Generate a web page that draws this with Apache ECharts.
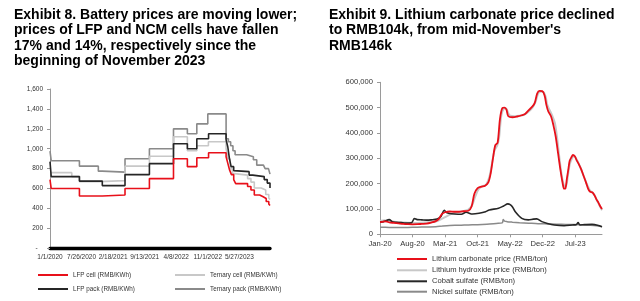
<!DOCTYPE html>
<html>
<head>
<meta charset="utf-8">
<script src="https://cdn.jsdelivr.net/npm/echarts@6/dist/echarts.min.js"></script>
<style>
  html, body { margin: 0; padding: 0; background: #fff; }
  #chart { width: 640px; height: 301px; }
</style>
</head>
<body>
<div id="chart"></div>
<script>
// Exhibit 8: battery prices, [days since 1/1/2020, RMB/KWh], value holds until next change
const lfpCell = [[0, 690], [8, 600], [193, 525], [343, 535], [492, 600], [652, 700], [810, 900], [901, 820], [963, 910], [1040, 960],
  [1155, 920], [1166, 855], [1177, 790], [1190, 740], [1205, 690], [1218, 650], [1296, 620], [1318, 585], [1340, 535],
  [1375, 520], [1395, 500], [1418, 470], [1435, 445], [1443, 430]];
const lfpPack = [[0, 870], [8, 720], [193, 675], [343, 630], [492, 740], [652, 850], [810, 1050], [901, 1000], [963, 1100], [1040, 1150],
  [1155, 1090], [1166, 1020], [1177, 900], [1188, 820], [1205, 780], [1214, 770], [1306, 735], [1330, 720], [1405, 690],
  [1425, 655], [1443, 605]];
const ternaryCell = [[0, 760], [143, 720], [193, 670], [317, 680], [492, 825], [652, 925], [810, 1120], [901, 980], [963, 1030], [1039, 1070],
  [1155, 1000], [1168, 900], [1182, 800], [1196, 750], [1210, 735], [1296, 700], [1318, 665], [1340, 605], [1385, 585],
  [1415, 540], [1435, 505], [1443, 490]];
const ternaryPack = [[0, 975], [8, 880], [193, 825], [317, 775], [343, 765], [492, 900], [652, 1000], [810, 1200], [901, 1150], [963, 1250],
  [1035, 1350], [1155, 1100], [1170, 1070], [1185, 1030], [1200, 980], [1214, 940], [1290, 920], [1334, 890], [1356, 835],
  [1400, 820], [1411, 800], [1433, 780], [1443, 745]];
const batteryTicks = [0, 207, 414, 621, 828, 1035, 1242];

// Exhibit 9: raw material prices, [months since Jan-20, RMB/ton]
const lithiumCarbonate = [[0, 48000], [0.5, 49000], [1, 51000], [1.5, 50000], [2, 47000], [3, 45000], [4, 43000], [5, 41000], [6, 40000],
  [7, 39500], [8, 40000], [9, 41000], [10, 42000], [11, 46000], [12, 52000], [12.7, 62000], [13.3, 80000], [14, 87000],
  [15, 90000], [16, 89000], [17, 89000], [18, 91000], [19, 93000], [19.7, 110000], [20.3, 160000], [21, 182000],
  [21.8, 188000], [22.6, 192000], [23.3, 205000], [23.8, 240000], [24.3, 300000], [24.8, 352000], [25.3, 362000],
  [25.8, 455000], [26.3, 498000], [26.8, 500000], [27.2, 492000], [27.6, 466000], [28.5, 462000], [29.5, 465000],
  [30.5, 470000], [31.2, 475000], [32, 490000], [32.8, 505000], [33.3, 520000], [33.8, 555000], [34.3, 566000],
  [34.9, 565000], [35.4, 548000], [35.8, 510000], [36.2, 485000], [36.8, 465000], [37.3, 430000], [37.8, 385000],
  [38.3, 320000], [38.8, 255000], [39.3, 200000], [39.6, 180000], [39.9, 182000], [40.2, 220000], [40.5, 255000],
  [40.8, 290000], [41.2, 305000], [41.5, 313000], [41.9, 308000], [42.3, 292000], [42.8, 275000], [43.3, 255000],
  [43.8, 230000], [44.3, 205000], [44.8, 178000], [45.2, 168000], [45.7, 165000], [46.1, 155000], [46.5, 140000],
  [47, 124000], [47.4, 110000], [47.75, 100000]];
const lithiumHydroxide = [[0, 53000], [1, 55000], [2, 53000], [3, 50000], [4, 48000], [5, 47000], [6, 46000], [7, 45000], [8, 45000],
  [9, 46000], [10, 47000], [11, 48000], [12, 50000], [13, 58000], [14, 68000], [15, 78000], [16, 85000], [17, 88000],
  [18, 92000], [19, 98000], [19.8, 115000], [20.5, 150000], [21.2, 178000], [22, 190000], [22.8, 195000], [23.5, 225000],
  [24, 270000], [24.6, 330000], [25.2, 350000], [25.6, 380000], [26.1, 470000], [26.6, 495000], [27.1, 497000],
  [27.6, 478000], [28, 468000], [29, 466000], [30, 468000], [31, 472000], [32, 485000], [32.8, 500000], [33.5, 525000],
  [34, 555000], [34.5, 563000], [35.1, 562000], [35.6, 545000], [36, 510000], [36.5, 490000], [37, 470000],
  [37.6, 440000], [38.1, 380000], [38.6, 300000], [39.1, 230000], [39.6, 192000], [40, 190000], [40.4, 230000],
  [40.8, 275000], [41.3, 300000], [41.7, 308000], [42.1, 302000], [42.6, 285000], [43.1, 265000], [43.6, 240000],
  [44.2, 212000], [44.7, 190000], [45.2, 172000], [45.7, 165000], [46.2, 152000], [46.7, 132000], [47.2, 115000],
  [47.75, 95000]];
const cobaltSulfate = [[0, 48000], [0.8, 50000], [2, 58000], [2.6, 50000], [3.5, 47000], [4.5, 46000], [5.5, 44000], [6.8, 46000],
  [7.4, 62000], [8, 58000], [9, 57000], [10, 56000], [11, 57000], [12.3, 60000], [13.1, 70000], [13.8, 95000], [14.3, 86000],
  [15, 82000], [16, 80000], [17.5, 79000], [18.5, 87000], [19.9, 80000], [21.3, 83000], [22.7, 89000], [23.5, 96000],
  [25.5, 103000], [26.6, 112000], [27.5, 120000], [28, 117000], [28.5, 108000], [29.1, 89000], [30.5, 63000],
  [31.9, 57000], [33, 60000], [33.7, 61000], [34.8, 50000], [36, 43000], [37.5, 37000], [39.6, 34000], [41.4, 37000],
  [42.2, 38000], [42.6, 46000], [43, 37000], [44, 38000], [45.6, 39000], [46.8, 36000], [47.75, 30000]];
const nickelSulfate = [[0, 28000], [2, 27000], [4, 26500], [6, 27000], [8, 28000], [10, 29000], [12, 30000], [13.5, 33000],
  [15, 35000], [17, 35500], [19, 37000], [21, 38000], [23, 40000], [25, 43000], [26.3, 45000], [26.5, 58000],
  [26.8, 52000], [27.3, 50000], [28.5, 48000], [30, 46000], [32, 44000], [34, 42000], [36, 41000], [38, 40000],
  [40, 39000], [42, 38500], [44, 37000], [46, 35000], [47, 33000], [47.75, 30000]];
const lithiumTicks = [0, 7, 14, 21, 28, 35, 42];
const monthNames = ['Jan', 'Feb', 'Mar', 'Apr', 'May', 'Jun', 'Jul', 'Aug', 'Sep', 'Oct', 'Nov', 'Dec'];

const FONT = 'Liberation Sans, Arial, sans-serif';
const RED = '#e8101a', BLACK = '#262626', LIGHT = '#c8c8c8', MID = '#8a8a8a';

function dayLabel(v) {
  const d = new Date(2020, 0, 1 + v);
  return (d.getMonth() + 1) + '/' + d.getDate() + '/' + d.getFullYear();
}
function monthLabel(v) {
  return monthNames[v % 12] + '-' + (20 + Math.floor(v / 12));
}
// one legend box per entry so rows and columns sit where the original has them
function legendItem(name, left, centerY, size) {
  return {
    left: left, top: centerY - 4, padding: 0,
    itemWidth: 30, itemHeight: 2, icon: 'rect',
    textStyle: { fontFamily: FONT, fontSize: size, color: '#333', lineHeight: 8 },
    data: [name]
  };
}

const chart = echarts.init(document.getElementById('chart'), null, { renderer: 'canvas' });

const leftLabel = { fontFamily: FONT, fontSize: 6.5, color: '#333' };
const rightLabel = { fontFamily: FONT, fontSize: 7.6, color: '#333' };
const titleStyle = { fontFamily: FONT, fontSize: 14, fontWeight: 'bold', color: '#000', lineHeight: 15.6 };

chart.setOption({
  animation: false,
  title: [
    {
      text: 'Exhibit 8. Battery prices are moving lower;\nprices of LFP and NCM cells have fallen\n17% and 14%, respectively since the\nbeginning of November 2023',
      left: 9, top: 2, textStyle: titleStyle
    },
    {
      text: 'Exhibit 9. Lithium carbonate price declined\nto RMB104k, from mid-November\'s\nRMB146k',
      left: 324, top: 2, textStyle: titleStyle
    }
  ],
  legend: [
    legendItem('LFP cell (RMB/KWh)', 38, 275, 6.3),
    legendItem('LFP pack (RMB/KWh)', 38, 289, 6.3),
    legendItem('Ternary cell (RMB/KWh)', 175, 275, 6.3),
    legendItem('Ternary pack (RMB/KWh)', 175, 289, 6.3),
    legendItem('Lithium carbonate price (RMB/ton)', 397, 259, 7.6),
    legendItem('Lithium hydroxide price (RMB/ton)', 397, 270.3, 7.6),
    legendItem('Cobalt sulfate (RMB/ton)', 397, 281.3, 7.6),
    legendItem('Nickel sulfate (RMB/ton)', 397, 291.7, 7.6)
  ],
  grid: [
    { left: 50, right: 370, top: 89, bottom: 52.7 },
    { left: 380, right: 38, top: 82.3, bottom: 66.7 }
  ],
  xAxis: [
    {
      gridIndex: 0, type: 'value', min: 0, max: 1443,
      splitLine: { show: false },
      axisLine: { lineStyle: { color: '#000', width: 3.3 } },
      axisTick: { show: false },
      axisLabel: Object.assign({ margin: 5, customValues: batteryTicks, formatter: dayLabel }, leftLabel)
    },
    {
      gridIndex: 1, type: 'value', min: 0, max: 47.75,
      splitLine: { show: false },
      axisLine: { lineStyle: { color: '#9a9a9a', width: 1 } },
      axisTick: { length: 3, lineStyle: { color: '#9a9a9a' }, customValues: lithiumTicks },
      axisLabel: Object.assign({ margin: 6, customValues: lithiumTicks, formatter: monthLabel }, rightLabel)
    }
  ],
  yAxis: [
    {
      gridIndex: 0, type: 'value', min: 0, max: 1600, interval: 200,
      splitLine: { show: false },
      axisLine: { show: true, lineStyle: { color: '#9a9a9a' } },
      axisTick: { show: true, length: 3, lineStyle: { color: '#9a9a9a' } },
      axisLabel: Object.assign({
        margin: 7,
        formatter: v => v === 0 ? '-   ' : v.toLocaleString('en-US')
      }, leftLabel)
    },
    {
      gridIndex: 1, type: 'value', min: 0, max: 600000, interval: 100000,
      splitLine: { show: false },
      axisLine: { show: true, lineStyle: { color: '#9a9a9a' } },
      axisTick: { show: true, length: 3, lineStyle: { color: '#9a9a9a' } },
      axisLabel: Object.assign({
        margin: 7,
        formatter: v => v.toLocaleString('en-US')
      }, rightLabel)
    }
  ],
  series: [
    { name: 'Ternary pack (RMB/KWh)', type: 'line', xAxisIndex: 0, yAxisIndex: 0, step: 'end', showSymbol: false,
      data: ternaryPack, color: MID, lineStyle: { width: 1.6 } },
    { name: 'Ternary cell (RMB/KWh)', type: 'line', xAxisIndex: 0, yAxisIndex: 0, step: 'end', showSymbol: false,
      data: ternaryCell, color: LIGHT, lineStyle: { width: 1.6 } },
    { name: 'LFP pack (RMB/KWh)', type: 'line', xAxisIndex: 0, yAxisIndex: 0, step: 'end', showSymbol: false,
      data: lfpPack, color: BLACK, lineStyle: { width: 1.6 } },
    { name: 'LFP cell (RMB/KWh)', type: 'line', xAxisIndex: 0, yAxisIndex: 0, step: 'end', showSymbol: false,
      data: lfpCell, color: RED, lineStyle: { width: 1.6 } },

    { name: 'Nickel sulfate (RMB/ton)', type: 'line', xAxisIndex: 1, yAxisIndex: 1, smooth: 0.3, showSymbol: false,
      data: nickelSulfate, color: MID, lineStyle: { width: 1.5 } },
    { name: 'Lithium hydroxide price (RMB/ton)', type: 'line', xAxisIndex: 1, yAxisIndex: 1, smooth: 0.3, showSymbol: false,
      data: lithiumHydroxide, color: LIGHT, lineStyle: { width: 2 } },
    { name: 'Cobalt sulfate (RMB/ton)', type: 'line', xAxisIndex: 1, yAxisIndex: 1, smooth: 0.3, showSymbol: false,
      data: cobaltSulfate, color: BLACK, lineStyle: { width: 1.6 } },
    { name: 'Lithium carbonate price (RMB/ton)', type: 'line', xAxisIndex: 1, yAxisIndex: 1, smooth: 0.3, showSymbol: false,
      data: lithiumCarbonate, color: RED, lineStyle: { width: 1.8 } }
  ]
});
</script>
</body>
</html>
